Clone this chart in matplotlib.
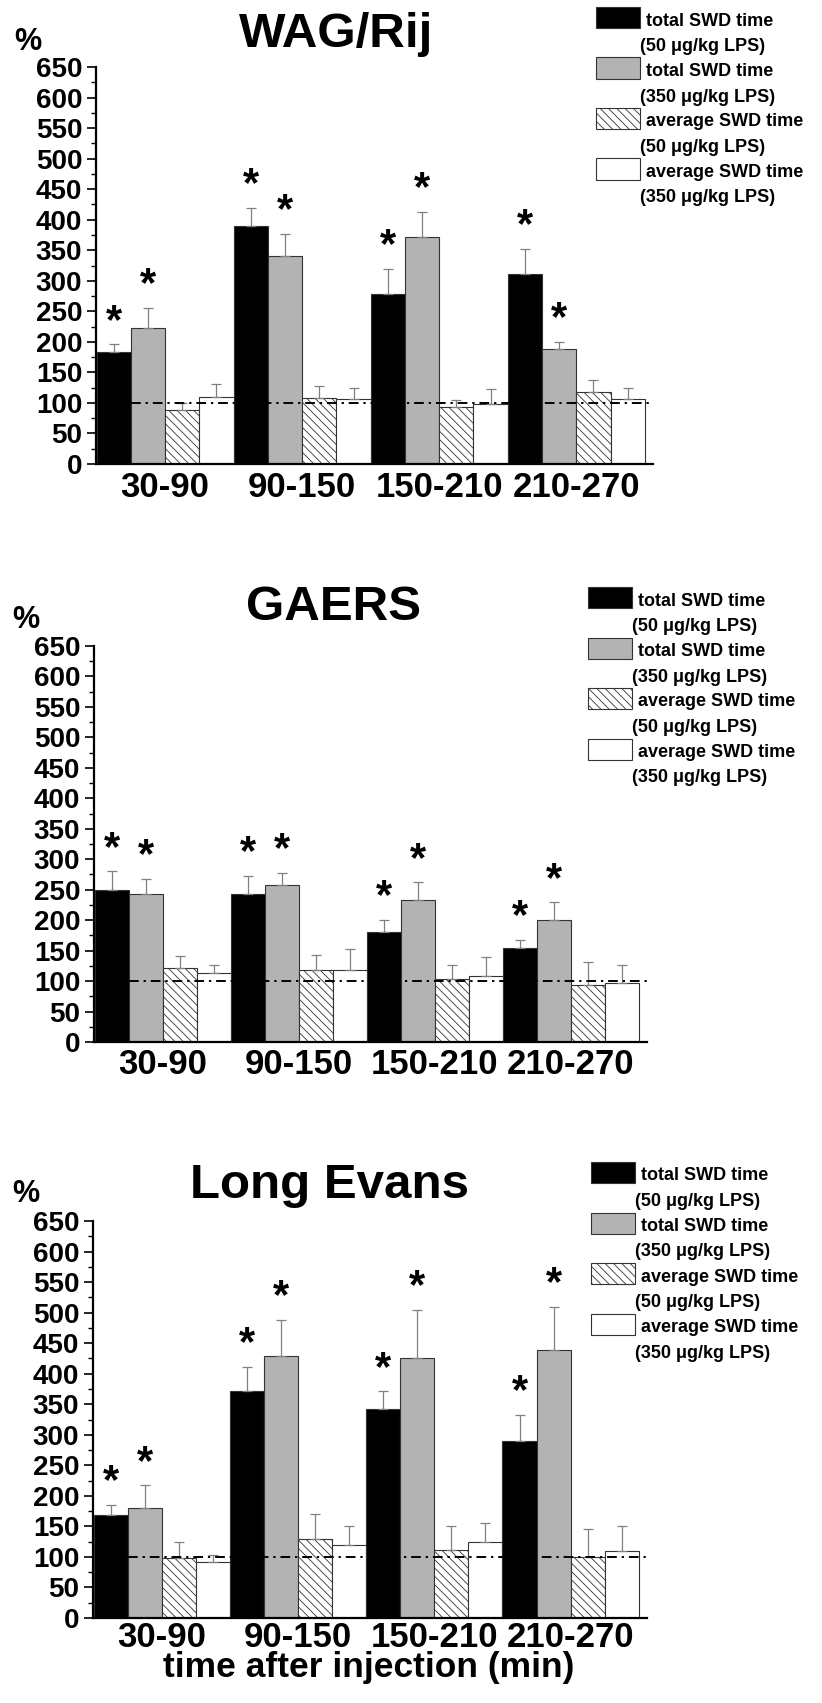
import numpy as np
import matplotlib.pyplot as plt
from matplotlib.patches import Rectangle

plt.rcParams['font.family'] = ['Liberation Sans', 'DejaVu Sans']
plt.rcParams['font.weight'] = 'bold'
plt.rcParams['hatch.linewidth'] = 0.6

# data
groups = ['30-90', '90-150', '150-210', '210-270']
legend_line1 = ['total SWD time', 'total SWD time', 'average SWD time', 'average SWD time']
legend_line2 = ['(50 μg/kg LPS)', '(350 μg/kg LPS)', '(50 μg/kg LPS)', '(350 μg/kg LPS)']
titles = ['WAG/Rij', 'GAERS', 'Long Evans']

# per group: black, gray, hatched, white
wag_vals = [184, 223, 89, 110, 390, 341, 108, 106, 278, 372, 94, 99, 311, 189, 118, 107]
wag_err = [12, 33, 11, 21, 29, 36, 20, 19, 42, 41, 10, 23, 41, 11, 19, 18]
gaers_vals = [250, 243, 121, 114, 243, 257, 119, 119, 180, 233, 104, 109, 154, 200, 94, 97]
gaers_err = [30, 25, 20, 12, 30, 21, 23, 33, 21, 29, 22, 31, 14, 29, 38, 30]
le_vals = [169, 180, 99, 92, 372, 429, 129, 120, 342, 426, 111, 124, 290, 439, 100, 109]
le_err = [16, 37, 25, 11, 39, 59, 41, 30, 29, 79, 39, 32, 42, 71, 46, 41]
starred = [True, True, False, False] * 4
baseline_pct = 100

colors = ['black', '#b3b3b3', 'white', 'white']
hatches = ['', '', '\\\\\\\\', '']

W, H = 822, 1703
fig = plt.figure(figsize=(W / 100, H / 100), dpi=100)


def fx(x):
    return x / W


def fy(y):
    return 1 - y / H


# axes boxes in pixels: left, top, right, bottom
boxes = [(95.5, 67, 653, 464), (93.5, 646, 647, 1042), (92.5, 1221, 647, 1618)]
title_pos = [(336, 47), (333, 620), (329, 1198)]
pct_pos = [(14, 50), (12, 628), (12, 1202)]
legend_pos = [(596, 7), (588, 587), (591, 1162)]
xpads = [5, 4, 2]

panels = [(wag_vals, wag_err), (gaers_vals, gaers_err), (le_vals, le_err)]

for i, (vals, errs) in enumerate(panels):
    l, t, r, b = boxes[i]
    ax = fig.add_axes([fx(l), fy(b), (r - l) / W, (b - t) / H])
    x = np.arange(len(vals))
    bars = ax.bar(x, vals, width=1.0, color=[colors[k % 4] for k in x],
                  edgecolor='#333333', linewidth=0.8, zorder=2)
    for k, p in enumerate(bars):
        p.set_hatch(hatches[k % 4])
    ax.errorbar(x, vals, yerr=[np.zeros(len(vals)), errs], fmt='none',
                ecolor='#808080', elinewidth=0.9, capsize=3.5, capthick=0.9, zorder=2.5)
    ax.plot([0.5, 15.74], [baseline_pct, baseline_pct], color='black', lw=1.4,
            ls=(0, (5, 2.5, 1.2, 2.5)), zorder=3, clip_on=False)
    for k in x:
        if starred[k]:
            ax.annotate('*', (k, vals[k] + errs[k] + 58), xytext=(0, -0.57 * 30),
                        textcoords='offset points', ha='center', va='baseline',
                        fontsize=30, fontweight='bold')

    ax.set_xlim(-0.53, 15.74)
    ax.set_ylim(0, 650)
    ax.set_yticks(np.arange(0, 651, 50))
    ax.set_yticks(np.arange(25, 650, 50), minor=True)
    ax.set_xticks([1.5, 5.5, 9.5, 13.5], groups)
    for s in ['top', 'right']:
        ax.spines[s].set_visible(False)
    for s in ['left', 'bottom']:
        ax.spines[s].set_linewidth(1.6)
    ax.tick_params(axis='y', which='major', length=6.5, width=1.2, labelsize=20, pad=3)
    ax.tick_params(axis='y', which='minor', length=3.5, width=1.0)
    ax.tick_params(axis='x', length=0, labelsize=25, pad=xpads[i])
    for lab in ax.get_xticklabels() + ax.get_yticklabels():
        lab.set_fontweight('bold')

    fig.text(fx(title_pos[i][0]), fy(title_pos[i][1]), titles[i], ha='center',
             va='baseline', fontsize=35.5, fontweight='bold')
    fig.text(fx(pct_pos[i][0]), fy(pct_pos[i][1]), '%', ha='left',
             va='baseline', fontsize=22, fontweight='bold')

    # legend drawn by hand
    lx, ly = legend_pos[i]
    for j in range(4):
        top = ly + j * 50.5
        fig.add_artist(Rectangle((fx(lx), fy(top + 21)), 44 / W, 21 / H,
                                 transform=fig.transFigure, facecolor=colors[j],
                                 edgecolor='#333333', linewidth=0.8, hatch=hatches[j]))
        fig.text(fx(lx + 50), fy(top + 18.5), legend_line1[j], ha='left',
                 va='baseline', fontsize=13, fontweight='bold')
        fig.text(fx(lx + 44), fy(top + 44), legend_line2[j], ha='left',
                 va='baseline', fontsize=13, fontweight='bold')

fig.text(fx(369), fy(1677), 'time after injection (min)', ha='center',
         va='baseline', fontsize=25.5, fontweight='bold')

fig.savefig('out.png', dpi=100)
